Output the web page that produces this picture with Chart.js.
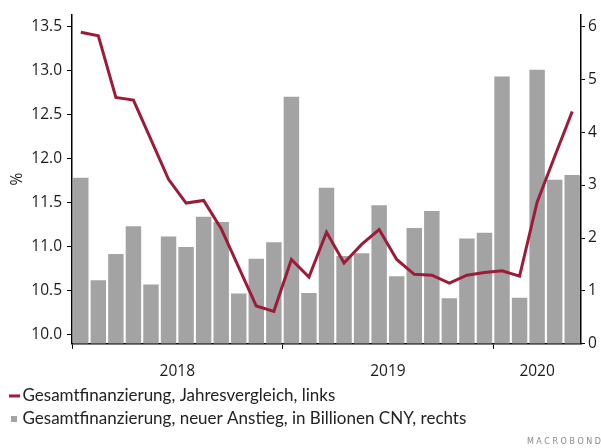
<!DOCTYPE html>
<html>
<head>
<meta charset="utf-8">
<script src="https://cdn.jsdelivr.net/npm/chart.js@4.4.1/dist/chart.umd.min.js"></script>
<style>
html,body{margin:0;padding:0;background:#fff;}
#wrap{width:601px;height:448px;position:relative;}
</style>
</head>
<body>
<div id="wrap"><canvas id="c" width="601" height="448"></canvas></div>
<script>
// ---- data ----
const months = [
  '2018-01','2018-02','2018-03','2018-04','2018-05','2018-06','2018-07','2018-08','2018-09','2018-10','2018-11','2018-12',
  '2019-01','2019-02','2019-03','2019-04','2019-05','2019-06','2019-07','2019-08','2019-09','2019-10','2019-11','2019-12',
  '2020-01','2020-02','2020-03','2020-04','2020-05'
];
const yoyGrowth = [
  13.43, 13.39, 12.69, 12.66, 12.21, 11.76, 11.49, 11.52, 11.20, 10.76, 10.32, 10.26,
  10.85, 10.65, 11.16, 10.81, 11.02, 11.19, 10.85, 10.68, 10.67, 10.58, 10.67, 10.70,
  10.72, 10.66, 11.50, 12.02, 12.53
];
const newFinancing = [
  3.14, 1.20, 1.70, 2.22, 1.12, 2.03, 1.83, 2.40, 2.30, 0.95, 1.61, 1.92,
  4.67, 0.96, 2.95, 1.66, 1.71, 2.62, 1.28, 2.19, 2.51, 0.86, 1.99, 2.10,
  5.05, 0.87, 5.18, 3.10, 3.19
];
const yearLabels = ['2018', '2019', '2020'];
const leftTicks = [10.0, 10.5, 11.0, 11.5, 12.0, 12.5, 13.0, 13.5];
const rightTicks = [0, 1, 2, 3, 4, 5, 6];

// year boundaries and label positions derived from the month list
const yearStartIdx = yearLabels.map(y => months.findIndex(m => m.startsWith(y)));
const yearLabelPos = yearLabels.map((y, i) => {
  const s = yearStartIdx[i];
  const e = i + 1 < yearStartIdx.length ? yearStartIdx[i + 1] : months.length;
  return (s + e) / 2 - 0.5;
});

// ---- legend markers ----
function makeMarker(draw) {
  const c = document.createElement('canvas');
  c.width = 22; c.height = 6;
  const g = c.getContext('2d');
  draw(g);
  return c;
}
const lineMarker = makeMarker(g => { g.fillStyle = '#9e1b37'; g.fillRect(10, 1.5, 11, 3); });
const boxMarker = makeMarker(g => { g.fillStyle = '#a3a3a3'; g.fillRect(12, 0, 6, 6); });

const tickFont = { family: "'Open Sans', sans-serif", size: 15.5 };
const ink = '#1a1a1a';

new Chart(document.getElementById('c'), {
  type: 'bar',
  data: {
    labels: months,
    datasets: [
      {
        type: 'line',
        label: 'Gesamtfinanzierung, Jahresvergleich, links',
        data: yoyGrowth,
        yAxisID: 'y',
        xAxisID: 'x',
        borderColor: '#9e1b37',
        backgroundColor: '#9e1b37',
        borderWidth: 3,
        pointRadius: 0,
        tension: 0,
        fill: false,
        pointStyle: lineMarker,
        borderJoinStyle: 'miter'
      },
      {
        type: 'bar',
        label: 'Gesamtfinanzierung, neuer Anstieg, in Billionen CNY, rechts',
        data: newFinancing,
        yAxisID: 'y1',
        xAxisID: 'x',
        backgroundColor: '#a3a3a3',
        borderWidth: 0,
        categoryPercentage: 0.88,
        barPercentage: 1.0,
        pointStyle: boxMarker
      }
    ]
  },
  options: {
    responsive: false,
    animation: false,
    devicePixelRatio: 1,
    layout: { padding: { top: 12, left: 0, right: 0, bottom: 0 } },
    plugins: {
      tooltip: { enabled: false },
      legend: {
        position: 'bottom',
        align: 'start',
        labels: {
          usePointStyle: true,
          boxWidth: 8,
          padding: 6,
          color: '#222',
          font: { family: "Lato, 'Open Sans', sans-serif", size: 17 }
        }
      },
      title: {
        display: true,
        position: 'bottom',
        align: 'end',
        text: 'M A C R O B O N D',
        color: '#888',
        font: { family: "'DejaVu Sans', sans-serif", size: 8, weight: 'normal' },
        padding: { top: 0, bottom: 1 }
      }
    },
    scales: {
      x: {
        type: 'category',
        position: 'bottom',
        offset: true,
        grid: {
          display: true,
          offset: true,
          drawOnChartArea: false,
          drawTicks: true,
          tickLength: 5,
          lineWidth: 1,
          color: ctx => yearStartIdx.includes(ctx.index) && ctx.index < months.length ? '#000' : 'rgba(0,0,0,0)'
        },
        border: { display: true, color: '#000', width: 1.5 },
        ticks: { display: false },
        afterFit: s => { s.height = 8; }
      },
      x2: {
        type: 'linear',
        position: 'bottom',
        offset: false,
        bounds: 'data',
        min: -0.5,
        max: months.length - 0.5,
        grid: { display: false, offset: false },
        border: { display: false },
        afterBuildTicks: s => { s.ticks = yearLabelPos.map(v => ({ value: v })); },
        ticks: {
          autoSkip: false,
          maxRotation: 0,
          padding: 2,
          color: ink,
          font: tickFont,
          callback: (v, i) => yearLabels[i]
        },
        afterFit: s => { s.height = 29.5; }
      },
      y: {
        type: 'linear',
        position: 'left',
        min: 9.89,
        max: 13.635,
        grid: { drawOnChartArea: false, drawTicks: true, tickLength: 5, color: '#000', lineWidth: 1 },
        border: { display: true, color: '#000', width: 1.5 },
        afterBuildTicks: s => { s.ticks = leftTicks.map(v => ({ value: v })); },
        ticks: {
          padding: 5,
          color: ink,
          font: tickFont,
          callback: v => Number(v).toFixed(1)
        },
        title: {
          display: true,
          text: '%',
          color: ink,
          font: tickFont,
          padding: { top: 8, bottom: 0 }
        },
        afterFit: s => { s.width = 72; }
      },
      y1: {
        type: 'linear',
        position: 'right',
        min: 0,
        max: 6.225,
        grid: { drawOnChartArea: false, drawTicks: true, tickLength: 4, color: '#000', lineWidth: 1 },
        border: { display: true, color: '#000', width: 1.5 },
        afterBuildTicks: s => { s.ticks = rightTicks.map(v => ({ value: v })); },
        ticks: {
          padding: 3,
          color: ink,
          font: tickFont,
          callback: v => String(v)
        },
        afterFit: s => { s.width = 20; }
      }
    }
  }
});
</script>
</body>
</html>
